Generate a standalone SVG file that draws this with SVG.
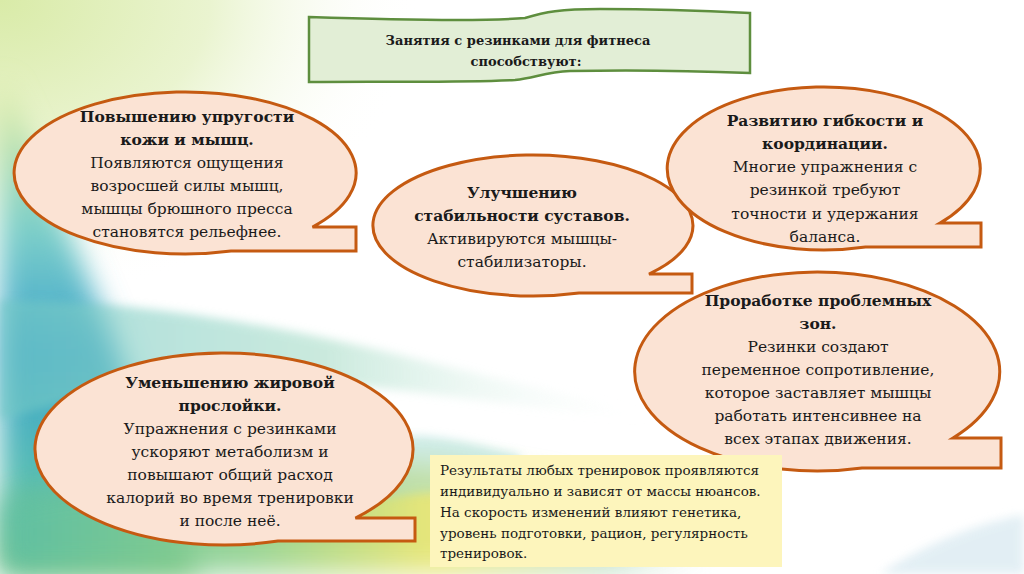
<svg xmlns="http://www.w3.org/2000/svg" width="1024" height="574" viewBox="0 0 1024 574" font-family="DejaVu Serif, serif">
  <defs>
    <style>
      .bubble { fill: #FBE3D4; stroke: #C55A11; stroke-width: 3; stroke-linejoin: miter; }
      text { fill: #1a1a1a; }
      .t { font-size: 15.5px; text-anchor: middle; }
      .b { font-weight: bold; }
      .title { font-size: 13px; font-weight: bold; text-anchor: middle; }
      .note { font-size: 13.5px; }
    </style>
    <filter id="blur" x="-20%" y="-20%" width="140%" height="140%"><feGaussianBlur stdDeviation="14"/></filter>
    <filter id="blur2" x="-20%" y="-20%" width="140%" height="140%"><feGaussianBlur stdDeviation="5"/></filter>
    <radialGradient id="tl" cx="0" cy="0" r="1" gradientUnits="objectBoundingBox">
      <stop offset="0" stop-color="#D9EBA8"/>
      <stop offset="0.5" stop-color="#EAF4D0"/>
      <stop offset="1" stop-color="#FFFFFF" stop-opacity="0"/>
    </radialGradient>
    <linearGradient id="left" x1="0" y1="0" x2="0" y2="1">
      <stop offset="0" stop-color="#DDEB9A"/>
      <stop offset="0.3" stop-color="#7DCFC9"/>
      <stop offset="0.55" stop-color="#3FA5CC"/>
      <stop offset="0.8" stop-color="#58BDB5"/>
      <stop offset="1" stop-color="#7CC36B"/>
    </linearGradient>
    <linearGradient id="bottom" x1="0" y1="0" x2="1" y2="0">
      <stop offset="0" stop-color="#5DBFA6"/>
      <stop offset="0.35" stop-color="#8ED08A"/>
      <stop offset="0.6" stop-color="#E6E46A"/>
      <stop offset="0.85" stop-color="#BFE0C8"/>
      <stop offset="1" stop-color="#FFFFFF" stop-opacity="0"/>
    </linearGradient>
    <linearGradient id="swoosh" x1="0" y1="0" x2="1" y2="0">
      <stop offset="0" stop-color="#6FC7C4"/>
      <stop offset="0.5" stop-color="#A9DDC8"/>
      <stop offset="1" stop-color="#FFFFFF" stop-opacity="0"/>
    </linearGradient>
  </defs>

  <!-- background -->
  <rect x="0" y="0" width="1024" height="574" fill="#FFFFFF"/>
  <rect x="0" y="0" width="420" height="300" fill="url(#tl)"/>
  <path d="M0,80 C40,160 80,260 110,330 C130,390 160,450 200,574 L0,574 Z" fill="url(#left)" filter="url(#blur)"/>
  <path d="M0,300 C120,300 260,320 420,360 C520,385 600,400 660,420 C520,410 380,380 240,380 C150,380 70,400 0,420 Z" fill="url(#swoosh)" filter="url(#blur2)" opacity="0.6"/>
  <path d="M0,500 C150,470 330,450 480,470 C560,480 640,500 720,540 L720,574 L0,574 Z" fill="url(#bottom)" filter="url(#blur)" opacity="0.9"/>
  <path d="M380,440 C420,430 460,440 520,455 L520,500 C470,490 420,490 380,500 Z" fill="#9FD9D0" filter="url(#blur2)" opacity="0.5"/>
  <path d="M880,574 C930,540 990,520 1024,515 L1024,574 Z" fill="#DCEBF2" filter="url(#blur2)" opacity="0.8"/>

  <!-- title -->
  <g id="title">
    <path d="M309,17 C400,20 480,22 525,18 C545,12 560,9 600,9 C660,9 710,11 750,13 L750,73 C700,71 620,70 570,71 C545,72 535,78 515,80 C460,83 380,81 309,82 Z" fill="#E2EED6" stroke="#5E8E3E" stroke-width="2.5"/>
    <text class="title" x="518" y="45">Занятия с резинками для фитнеса</text>
    <text class="title" x="526" y="66">способствуют:</text>
  </g>

  <!-- callout 1 -->
  <g id="node-uprugost">
    <path class="bubble" d="M312.5,227 L356,227 L356,251 L231,251 A171,81 0 1 1 312.5,227 Z"/>
    <text class="t b" x="187" y="122">Повышению упругости</text>
    <text class="t b" x="187" y="145">кожи и мышц.</text>
    <text class="t" x="187" y="168">Появляются ощущения</text>
    <text class="t" x="187" y="191">возросшей силы мышц,</text>
    <text class="t" x="187" y="214">мышцы брюшного пресса</text>
    <text class="t" x="187" y="237">становятся рельефнее.</text>
  </g>

  <!-- callout 2 -->
  <g id="node-sustavy">
    <path class="bubble" d="M649,274 L692,274 L692,293 L579,293 A160,70.5 0 1 1 649,274 Z"/>
    <text class="t b" x="522" y="198">Улучшению</text>
    <text class="t b" x="522" y="221">стабильности суставов.</text>
    <text class="t" x="522" y="244">Активируются мышцы-</text>
    <text class="t" x="522" y="267">стабилизаторы.</text>
  </g>

  <!-- callout 3 -->
  <g id="node-gibkost">
    <path class="bubble" d="M940,223 L981,223 L981,247 L865.5,247 A156.5,81.5 0 1 1 940,223 Z"/>
    <text class="t b" x="825" y="126">Развитию гибкости и</text>
    <text class="t b" x="825" y="149">координации.</text>
    <text class="t" x="825" y="172">Многие упражнения с</text>
    <text class="t" x="825" y="195">резинкой требуют</text>
    <text class="t" x="825" y="219">точности и удержания</text>
    <text class="t" x="825" y="242">баланса.</text>
  </g>

  <!-- callout 4 -->
  <g id="node-zony">
    <path class="bubble" d="M953,438 L1001,438 L1001,468 L862,468 A182.5,99.5 0 1 1 953,438 Z"/>
    <text class="t b" x="818" y="306">Проработке проблемных</text>
    <text class="t b" x="818" y="329">зон.</text>
    <text class="t" x="818" y="352">Резинки создают</text>
    <text class="t" x="818" y="375">переменное сопротивление,</text>
    <text class="t" x="818" y="398">которое заставляет мышцы</text>
    <text class="t" x="818" y="421">работать интенсивнее на</text>
    <text class="t" x="818" y="444">всех этапах движения.</text>
  </g>

  <!-- callout 5 -->
  <g id="node-zhir">
    <path class="bubble" d="M355.4,518 L415,518 L415,541 L278,541 A189,96 0 1 1 355.4,518 Z"/>
    <text class="t b" x="230" y="388">Уменьшению жировой</text>
    <text class="t b" x="230" y="411">прослойки.</text>
    <text class="t" x="230" y="434">Упражнения с резинками</text>
    <text class="t" x="230" y="457">ускоряют метаболизм и</text>
    <text class="t" x="230" y="480">повышают общий расход</text>
    <text class="t" x="230" y="503">калорий во время тренировки</text>
    <text class="t" x="230" y="526">и после неё.</text>
  </g>

  <!-- note -->
  <g id="node-note">
    <rect x="430" y="455" width="352" height="112" fill="#FDF5BC"/>
    <text class="note" x="440" y="475">Результаты любых тренировок проявляются</text>
    <text class="note" x="440" y="496">индивидуально и зависят от массы нюансов.</text>
    <text class="note" x="440" y="517">На скорость изменений влияют генетика,</text>
    <text class="note" x="440" y="538">уровень подготовки, рацион, регулярность</text>
    <text class="note" x="440" y="558">тренировок.</text>
  </g>

  <g id="connectors"></g>
</svg>
